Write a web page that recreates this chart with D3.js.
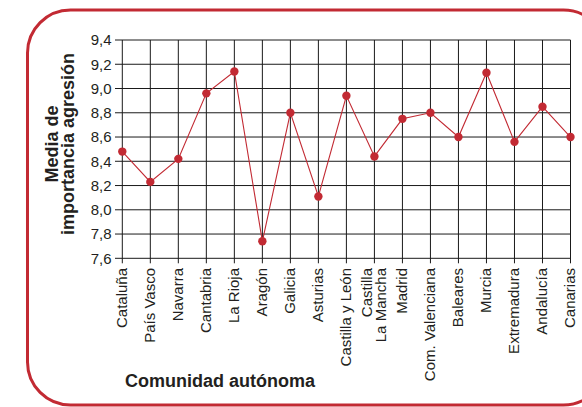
<!DOCTYPE html>
<html><head><meta charset="utf-8">
<script src="https://cdn.jsdelivr.net/npm/d3@7"></script>
<style>body{margin:0;background:#fff;} svg{display:block;font-family:"Liberation Sans",Arial,sans-serif;}</style>
</head><body>
<svg id="c" width="582" height="407"></svg>
<script>
const categories = ["Cataluña","País Vasco","Navarra","Cantabria","La Rioja","Aragón","Galicia","Asturias","Castilla y León","Castilla\nLa Mancha","Madrid","Com. Valenciana","Baleares","Murcia","Extremadura","Andalucía","Canarias"];
const values = [8.48,8.23,8.42,8.96,9.14,7.74,8.80,8.11,8.94,8.44,8.75,8.80,8.60,9.13,8.56,8.85,8.60];
const yTicks = [7.6,7.8,8.0,8.2,8.4,8.6,8.8,9.0,9.2,9.4];
const yTitle = ["Media de","importancia agresión"];
const xTitle = "Comunidad autónoma";

const red = "#c22a33";
const svg = d3.select("#c");
// frame
svg.append("rect").attr("x",27.5).attr("y",10).attr("width",579).attr("height",395)
  .attr("rx",43).attr("ry",43).attr("fill","none").attr("stroke",red).attr("stroke-width",3);

const x = d3.scalePoint().domain(categories).range([122.3,570.5]);
const y = d3.scaleLinear().domain([7.6,9.4]).range([258.3,40]);
const left = 115, right = 570.5;

const g = svg.append("g");
// horizontal grid + ticks
g.selectAll("line.h").data(yTicks).join("line").attr("class","h")
  .attr("x1",left).attr("x2",right).attr("y1",d=>y(d)).attr("y2",d=>y(d))
  .attr("stroke","#1a1a1a").attr("stroke-width",1);
// vertical grid + ticks
g.selectAll("line.v").data(categories).join("line").attr("class","v")
  .attr("x1",d=>x(d)).attr("x2",d=>x(d)).attr("y1",y(9.4)).attr("y2",y(7.6)+5)
  .attr("stroke","#1a1a1a").attr("stroke-width",1);
// y tick labels
const fmt = d=>d3.format(".1f")(d).replace(".",",");
g.selectAll("text.yt").data(yTicks).join("text").attr("class","yt")
  .attr("x",111.5).attr("y",d=>y(d)).attr("dy","0.35em").attr("text-anchor","end")
  .attr("font-size",15).attr("fill","#231f20").text(fmt);
// x tick labels
const xl = g.selectAll("text.xt").data(categories).join("text").attr("class","xt")
  .attr("transform",d=>`translate(${x(d)},268) rotate(-90)`)
  .attr("text-anchor","end").attr("font-size",15).attr("fill","#231f20");
xl.each(function(d){
  const lines = d.split("\n");
  const t = d3.select(this);
  lines.forEach((ln,i)=>{
    const off = 4.7 + (i - (lines.length-1)/2)*14;
    t.append("tspan").attr("x",0).attr("y",off).text(ln);
  });
});
// line
const line = d3.line().x((d,i)=>x(categories[i])).y(d=>y(d));
g.append("path").datum(values).attr("d",line).attr("fill","none").attr("stroke",red).attr("stroke-width",1.1);
g.selectAll("circle").data(values).join("circle")
  .attr("cx",(d,i)=>x(categories[i])).attr("cy",d=>y(d)).attr("r",4.2).attr("fill",red);
// titles
const yt = svg.append("text").attr("transform","translate(0,144) rotate(-90)")
  .attr("text-anchor","middle").attr("font-size",18).attr("font-weight","bold").attr("fill","#231f20");
yTitle.forEach((t,i)=>yt.append("tspan").attr("x",0).attr("y",58+i*16).text(t));
svg.append("text").attr("x",220).attr("y",387).attr("text-anchor","middle")
  .attr("font-size",18).attr("font-weight","bold").attr("fill","#231f20").text(xTitle);
</script>
</body></html>
